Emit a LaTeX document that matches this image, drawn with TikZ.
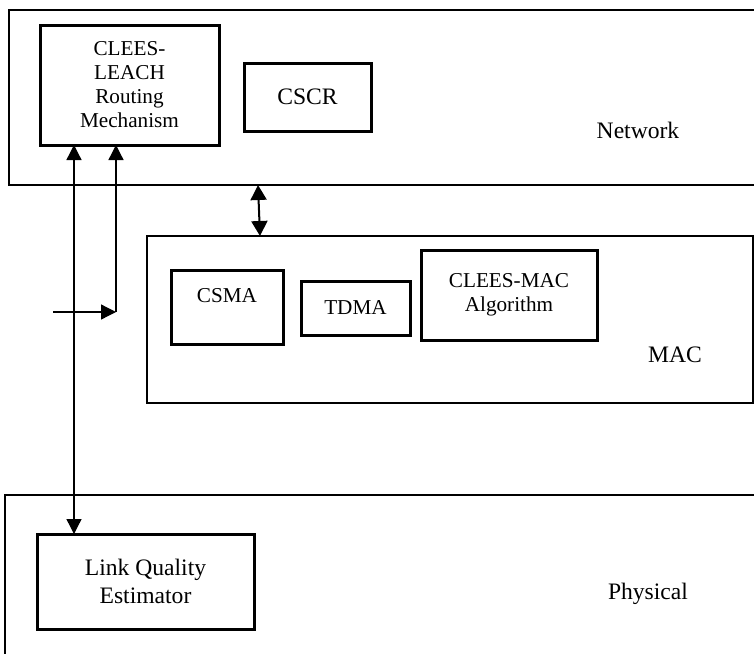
\documentclass[tikz,border=0pt]{standalone}
\usepackage{fontspec}
\setmainfont{Liberation Serif}
\usetikzlibrary{arrows.meta}
\begin{document}
\begin{tikzpicture}[x=0.5pt,y=-0.5pt,
  layer/.style={draw, line width=1.35pt, inner sep=0pt, outer sep=0pt, anchor=north west},
  box/.style={draw, line width=1.5pt, inner sep=0pt, outer sep=0pt, anchor=north west, align=center,
    font=\fontsize{10.6}{12}\selectfont},
  lbl/.style={inner sep=0pt, font=\fontsize{11.8}{14}\selectfont, align=center},
  arr/.style={line width=0.65pt, -{Triangle[length=7.5pt,width=7.5pt]}},
  darr/.style={line width=1pt, {Triangle[length=7.5pt,width=8pt]}-{Triangle[length=7.5pt,width=8pt]}}
]
\useasboundingbox (0,0) rectangle (754,653);
\clip (0,0) rectangle (754,653);
\fill[white] (0,0) rectangle (754,653);

% layers
\node[layer, minimum width=380.5pt, minimum height=87.5pt] (net) at (9,10) {};
\node[layer, line width=1.1pt, minimum width=303pt, minimum height=83.5pt] (mac) at (147,236) {};
\node[layer, minimum width=382.5pt, minimum height=85pt] (phys) at (5,495) {};

% layer labels
\node[lbl] (netl) at (638,130) {Network};
\node[lbl] (macl) at (675,355) {MAC};
\node[lbl] (physl) at (648,594) {Physical};

% inner boxes
\node[box, minimum width=89.5pt, minimum height=60pt] (leach) at (40,25) {CLEES-\\LEACH\\Routing\\Mechanism};
\node[box, minimum width=63.5pt, minimum height=34pt, font=\fontsize{11.8}{14}\selectfont] (cscr) at (244,63) {CSCR};
\node[box, minimum width=56pt, minimum height=37pt] (csma) at (171,270) {CSMA\\\mbox{}};
\node[box, minimum width=54.5pt, minimum height=27pt] (tdma) at (301,281) {TDMA};
\node[box, minimum width=88pt, minimum height=45pt] (cmac) at (421,250) {CLEES-MAC\\Algorithm};
\node[box, minimum width=108.5pt, minimum height=47.5pt, font=\fontsize{11.8}{14}\selectfont] (lqe) at (37,534) {Link Quality\\Estimator};

% connectors
\coordinate (src) at (53,312);
\coordinate (corner) at (116,312);
\draw[arr] (src) -- (corner);
\draw[arr] (corner) -- ([xshift=38pt]leach.south west);
\draw[line width=0.65pt, {Triangle[length=7.5pt,width=7.5pt]}-{Triangle[length=7.5pt,width=7.5pt]}]
  ([xshift=17pt]leach.south west) -- ([xshift=18.5pt]lqe.north west);
\draw[darr] ([xshift=124.5pt]net.south west) -- ([xshift=56.5pt]mac.north west);
\end{tikzpicture}
\end{document}
